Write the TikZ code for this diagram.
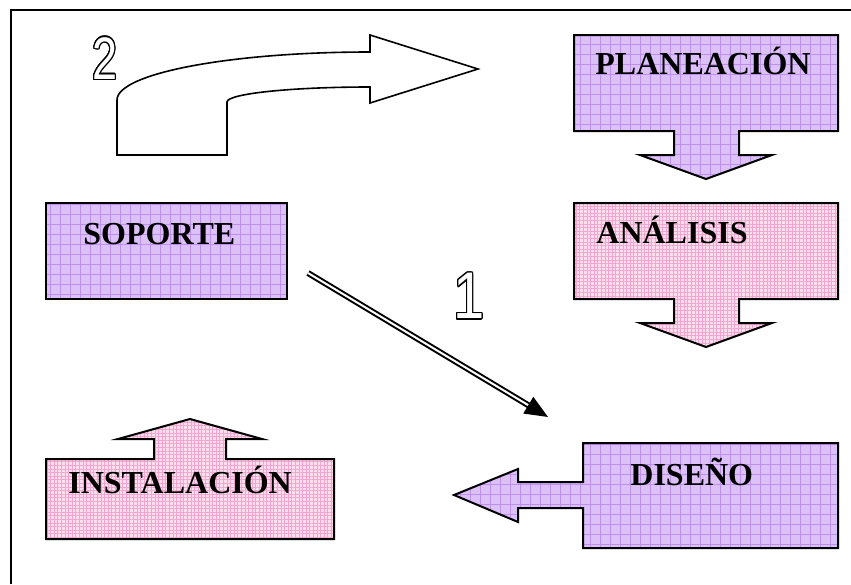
\documentclass[tikz,border=0pt]{standalone}
\usepackage{fontspec}
\setmainfont{Liberation Serif}
\newfontfamily\digitfont{Liberation Sans}
\usepackage{contour}
\contourlength{0.7pt}
\usetikzlibrary{arrows.meta,patterns.meta}
\definecolor{lila}{RGB}{220,192,248}
\definecolor{lilaline}{RGB}{190,144,238}
\definecolor{rosa}{RGB}{251,222,238}
\definecolor{rosaline}{RGB}{243,165,208}
\newcommand{\downcall}[1]{\draw[#1] (574,35) -- (838,35) -- (838,131) -- (739,131) -- (739,155)
        			-- (772,155) -- (706,179) -- (640,155) -- (674,155) -- (674,131) -- (574,131) -- cycle;}

\begin{document}
\begin{tikzpicture}[x=0.5pt,y=-0.5pt,
		lilabox/.style={preaction={fill=lila}, pattern={Hatch[angle=0,distance=5pt,line width=0.35pt]}, pattern color=lilaline, draw, line width=1pt},
		rosabox/.style={preaction={fill=rosa}, pattern={Hatch[angle=0,distance=1.8pt,line width=0.3pt]}, pattern color=rosaline, draw, line width=1pt},
		lbl/.style={anchor=base west, inner sep=0pt, font=\fontsize{16pt}{18pt}\selectfont\bfseries},
		num/.style={anchor=north west, inner sep=0pt}]

					\useasboundingbox (0,0) rectangle (851,584);
					\draw[line width=1pt] (11,584) -- (11,10) -- (851,10);

					% curved arrow 2
					\draw[line width=0.8pt] (117,155) -- (117,100) .. controls (117,73.5) and (230,52) .. (370,52)
						-- (370,35) -- (478,69) -- (370,103) -- (370,87)
						.. controls (291,87) and (227,93.7) .. (227,102) -- (227,155) -- cycle;
					\node[num] (two) at (92,37) {\scalebox{0.75}[1]{\digitfont\fontsize{30pt}{32pt}\selectfont\contour{black}{\textcolor{white}{2}}}};

					\begin{scope}[shift={(0,0)}]
						\downcall{lilabox}
					\end{scope}

					\begin{scope}[shift={(0,168)}]
						\downcall{rosabox}
					\end{scope}

					\node[lbl] (planeacion) at (595,74) {PLANEACIÓN};
					\node[lbl] (analisis) at (596,243) {ANÁLISIS};

					% soporte
					\draw[lilabox] (46,203) rectangle (287,299);
					\node[lbl] (soporte) at (83,244) {SOPORTE};

					% instalacion
					\draw[rosabox] (46,459) -- (154,459) -- (154,439) -- (118,439) -- (190,419) -- (262,439)
						-- (226,439) -- (226,459) -- (334,459) -- (334,539) -- (46,539) -- cycle;
					\node[lbl] (instalacion) at (68,493) {INSTALACIÓN};

					% diseno
					\draw[lilabox] (583,443) -- (838,443) -- (838,548) -- (583,548) -- (583,508) -- (518,508)
						-- (518,522) -- (454,495) -- (518,469) -- (518,482) -- (583,482) -- cycle;
					\node[lbl] (diseno) at (630,485) {DISEÑO};

					% arrow 1
					\coordinate (start) at (308,273);
					\coordinate (end) at (548,417);
					\draw[double, line width=1pt, double distance=1pt, -{Triangle[length=11.5pt,width=9.5pt]}] (start) -- (end);
					\node[num] (one) at (453,273) {\scalebox{0.85}[1]{\digitfont\fontsize{33pt}{35pt}\selectfont\contour{black}{\textcolor{white}{1}}}};

				\end{tikzpicture}
\end{document}
